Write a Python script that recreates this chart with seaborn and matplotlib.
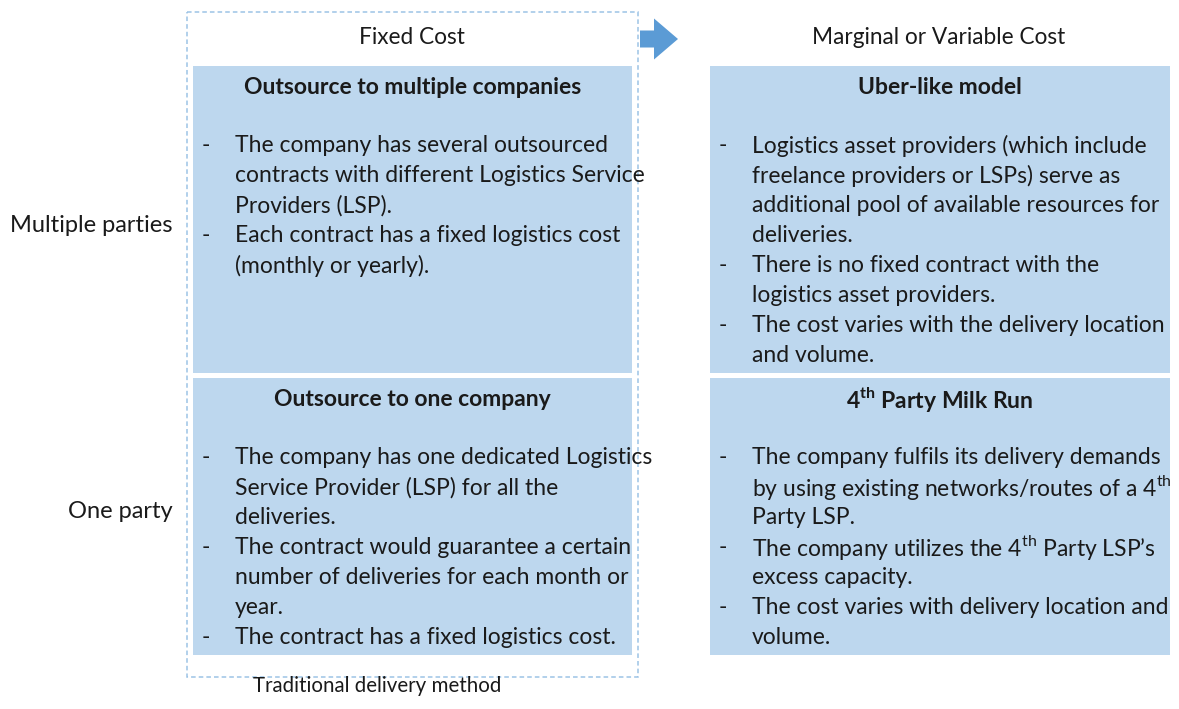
import matplotlib
matplotlib.use("Agg")
import matplotlib.pyplot as plt
import seaborn as sns
from matplotlib.patches import Rectangle, FancyArrow

# Diagram content
col_headers = ["Fixed Cost", "Marginal or Variable Cost"]
row_labels = ["Multiple parties", "One party"]
footer = "Traditional delivery method"

cell_titles = [
    ["Outsource to multiple companies", "Uber-like model"],
    ["Outsource to one company", r"4$^{\mathbf{th}}$ Party Milk Run"],
]

# each cell: list of bullets, each bullet a list of wrapped lines
cell_bullets = [
    [
        [
            ["The company has several outsourced",
             "contracts with different Logistics Service",
             "Providers (LSP)."],
            ["Each contract has a fixed logistics cost",
             "(monthly or yearly)."],
        ],
        [
            ["Logistics asset providers (which include",
             "freelance providers or LSPs) serve as",
             "additional pool of available resources for",
             "deliveries."],
            ["There is no fixed contract with the",
             "logistics asset providers."],
            ["The cost varies with the delivery location",
             "and volume."],
        ],
    ],
    [
        [
            ["The company has one dedicated Logistics",
             "Service Provider (LSP) for all the",
             "deliveries."],
            ["The contract would guarantee a certain",
             "number of deliveries for each month or",
             "year."],
            ["The contract has a fixed logistics cost."],
        ],
        [
            ["The company fulfils its delivery demands",
             r"by using existing networks/routes of a 4$^{\mathrm{th}}$",
             "Party LSP."],
            [r"The company utilizes the 4$^{\mathrm{th}}$ Party LSP’s",
             "excess capacity."],
            ["The cost varies with delivery location and",
             "volume."],
        ],
    ],
]

sns.set_theme(style="white")
plt.rcParams["font.family"] = ["Lato", "DejaVu Sans"]
plt.rcParams["mathtext.fontset"] = "custom"
plt.rcParams["mathtext.rm"] = "Lato"
plt.rcParams["mathtext.bf"] = "Lato:bold"

fill = "#BDD7EE"
ink = "#1a1a1a"
body_size = 16.5
title_size = 16.5
header_size = 16.3
row_size = 17
footer_size = 14.8

fig = plt.figure(figsize=(11.79, 7.09), dpi=100)
ax = fig.add_axes([0, 0, 1, 1])
ax.set_xlim(0, 1179)
ax.set_ylim(709, 0)
ax.axis("off")

# layout (pixel-like units)
col_x = [(193, 632), (710, 1170)]
row_y = [(66, 373), (378, 655)]
row_label_y = [226, 512]
line_gap = 30

# dashed frame around traditional method
ax.add_patch(Rectangle((187, 12), 451, 665, fill=False, edgecolor="#9DC3E6",
                       lw=1.1, linestyle=(0, (3, 2))))
# arrow
ax.add_patch(FancyArrow(640, 39, 38, 0, width=17, head_width=41,
                        head_length=24, length_includes_head=True,
                        color="#5B9BD5", lw=0))

for ci, head in enumerate(col_headers):
    cx = (col_x[ci][0] + col_x[ci][1]) / 2 - 1
    ax.text(cx, 38, head, ha="center", va="center", fontsize=header_size, color=ink)

for ri, lab in enumerate(row_labels):
    ax.text(173, row_label_y[ri], lab, ha="right", va="center",
            fontsize=row_size, color=ink)

ax.text(377, 686, footer, ha="center", va="center", fontsize=footer_size, color=ink)

for ri in range(2):
    for ci in range(2):
        x0, x1 = col_x[ci]
        y0, y1 = row_y[ri]
        ax.add_patch(Rectangle((x0, y0), x1 - x0, y1 - y0, facecolor=fill,
                               edgecolor="none"))
        ax.text((x0 + x1) / 2, y0 + 21, cell_titles[ri][ci], ha="center",
                va="center", fontsize=title_size, fontweight="bold", color=ink)
        y = y0 + 80
        for bullet in cell_bullets[ri][ci]:
            ax.text(x0 + 13, y, "-", ha="center", va="center",
                    fontsize=body_size, color=ink)
            for line in bullet:
                ax.text(x0 + 42, y, line, ha="left", va="center",
                        fontsize=body_size, color=ink)
                y += line_gap

fig.savefig("out.png", dpi=100, facecolor="white")
